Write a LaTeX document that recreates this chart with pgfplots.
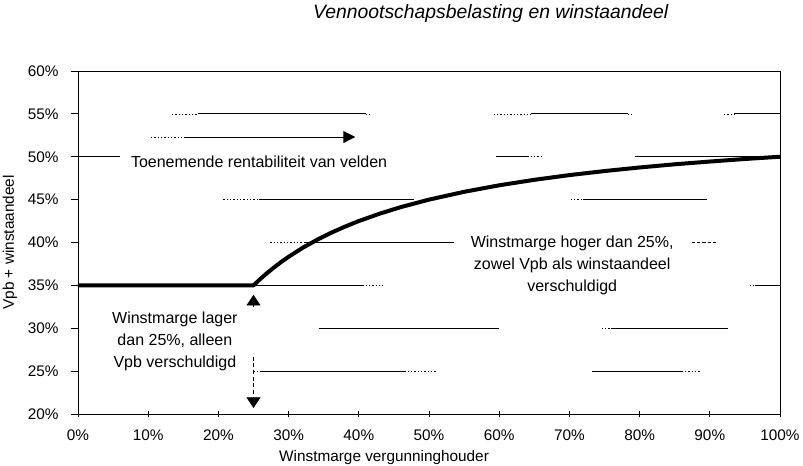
\documentclass[border=0pt]{standalone}
\usepackage{fontspec}
\setmainfont{Liberation Sans}
\usepackage{pgfplots}
\pgfplotsset{compat=1.18}
\usetikzlibrary{arrows.meta}
\begin{document}
\begin{tikzpicture}
\path[use as bounding box] (-58.5pt,-39pt) rectangle (543.75pt,310.5pt);
\begin{axis}[
  at={(0,0)}, anchor=south west,
  scale only axis, width=526.5pt, height=257.25pt,
  xmin=0, xmax=100, ymin=20, ymax=60,
  xtick={0,10,...,100}, ytick={20,25,...,60},
  xticklabels={0\%,10\%,20\%,30\%,40\%,50\%,60\%,70\%,80\%,90\%,100\%},
  yticklabels={20\%,25\%,30\%,35\%,40\%,45\%,50\%,55\%,60\%},
  xtick pos=bottom, ytick pos=left,
  xtick align=center, ytick align=outside,
  major tick length=5pt,
  tick style={black, line width=0.6pt},
  axis line style={line width=0.7pt},
  /pgf/number format/assume math mode=true,
  ticklabel style={font=\fontsize{11.5}{13}\selectfont},
  xticklabel style={yshift=-8.5pt, inner sep=1pt},
  yticklabel style={xshift=-6pt},
  xlabel={Winstmarge vergunninghouder},
  ylabel={Vpb + winstaandeel},
  label style={font=\fontsize{11.5}{13}\selectfont},
  xlabel style={at={(axis description cs:0.436,-0.127)}, anchor=center, inner sep=1pt},
  ylabel style={at={(axis description cs:-0.0969,0.5)}, anchor=center},
  title={Vennootschapsbelasting en winstaandeel},
  title style={at={(axis description cs:0.588,1.143)}, anchor=center, font=\fontsize{14.5}{17}\selectfont\itshape},
  unbounded coords=jump,
  clip=false,
]
% broken grid lines (solid parts)
\addplot[black, line width=0.6pt] coordinates {
 (17.1,55) (41.0,55) (41,nan) (64.5,55) (78.3,55) (80,nan) (93.5,55) (100,55) (100,nan)
 (0,50) (6.0,50) (6,nan) (59.5,50) (64.0,50) (64,nan) (79.3,50) (100,50) (100,nan)
 (25.8,45) (47.8,45) (48,nan) (71.9,45) (89.6,45) (90,nan)
 (32.4,40) (53.5,40) (54,nan)
 (25,35) (40.5,35) (41,nan) (96.5,35) (100,35) (100,nan)
 (34.4,30) (59.9,30) (60,nan) (75.9,30) (92.6,30) (93,nan)
 (26,25) (46.5,25) (47,nan) (73.2,25) (86,25)
};
% broken grid lines (dotted parts)
\addplot[black, line width=0.5pt, dash pattern=on 1pt off 1.5pt] coordinates {
 (13.4,55) (17.1,55) (17.5,nan) (41,55) (41.5,55) (42,nan) (59.2,55) (64.5,55) (65,nan)
 (78.3,55) (78.9,55) (79,nan) (92.0,55) (93.5,55) (94,nan)
 (64.0,50) (66.2,50) (67,nan)
 (20.7,45) (25.8,45) (26,nan) (70.2,45) (71.9,45) (72,nan)
 (27.4,40) (32.4,40) (33,nan)
 (40.5,35) (43.5,35) (44,nan) (95.7,35) (96.5,35) (97,nan)
 (74.6,30) (75.9,30) (76,nan)
 (25,25) (26,25) (26.5,nan) (46.5,25) (51,25) (52,nan) (86,25) (88.6,25)
};
\addplot[black, line width=0.5pt, dash pattern=on 2.5pt off 1.5pt] coordinates {(87.4,40) (91.2,40)};
% main curve
\addplot[black, line width=3pt, line join=round] coordinates {
 (0,35) (25,35) (26,35.77) (27,36.48) (28,37.14) (29,37.76) (30,38.33) (32,39.38)
 (34,40.29) (36,41.11) (38,41.84) (40,42.50) (43,43.37) (46,44.13) (50,45.00)
 (55,45.91) (60,46.67) (65,47.31) (70,47.86) (75,48.33) (80,48.75) (85,49.12)
 (90,49.44) (95,49.74) (100,50.00)
};
% arrows
\draw[line width=0.5pt, dash pattern=on 1pt off 1.5pt] (axis cs:10.4,52.3) -- (axis cs:15.4,52.3);
\draw[line width=0.7pt, -{Triangle[length=9pt,width=9pt]}] (axis cs:15.4,52.3) -- (axis cs:39.5,52.3);
\draw[line width=0.7pt, -{Triangle[length=8pt,width=10.5pt]}] (axis cs:25,32.5) -- (axis cs:25,33.9);
\draw[line width=0.6pt, dash pattern=on 3pt off 2pt, -{Triangle[length=8pt,width=10.5pt]}] (axis cs:25,26.7) -- (axis cs:25,20.7);
% annotations
\node[font=\fontsize{12}{16.5}\selectfont, anchor=base] at (axis cs:25.8,48.8) {Toenemende rentabiliteit van velden};
\node[font=\fontsize{12}{16.5}\selectfont, align=center] at (axis cs:70.4,37.3) {Winstmarge hoger dan 25\%,\\zowel Vpb als winstaandeel\\verschuldigd};
\node[font=\fontsize{12}{16.5}\selectfont, align=center] at (axis cs:13.8,28.45) {Winstmarge lager\\dan 25\%, alleen\\Vpb verschuldigd};
\end{axis}
\end{tikzpicture}
\end{document}
